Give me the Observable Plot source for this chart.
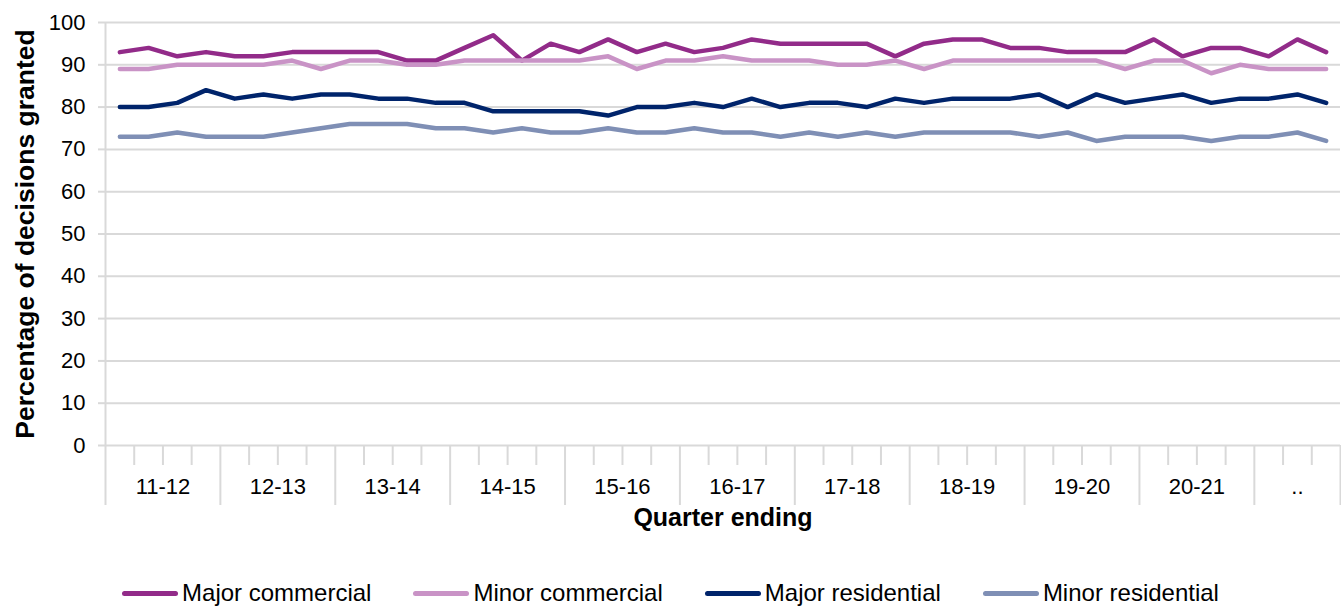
<!DOCTYPE html>
<html>
<head>
<meta charset="utf-8">
<script src="https://cdn.jsdelivr.net/npm/d3@7"></script>
<script src="https://cdn.jsdelivr.net/npm/@observablehq/plot@0.6"></script>
<style>
  html, body { margin: 0; padding: 0; background: #fff; }
  body { width: 1341px; font-family: "Liberation Sans", Arial, sans-serif; }
  #legend { display: flex; justify-content: center; align-items: center; height: 36px; font-size: 24px; color: #000; }
  .item { display: flex; align-items: center; margin: 0 21px; }
  .sw { width: 56px; height: 5px; border-radius: 3px; margin-right: 4px; }
</style>
</head>
<body>
<div id="chart"></div>
<div id="legend"></div>
<script>
const years = ["11-12","12-13","13-14","14-15","15-16","16-17","17-18","18-19","19-20","20-21",".."];
const quartersPerYear = [4,4,4,4,4,4,4,4,4,4,3];

const seriesNames = ["Major commercial","Minor commercial","Major residential","Minor residential"];
const seriesColors = ["#922B89","#C993C6","#00246B","#7F8FB5"];

const majorCommercial = [93,94,92,93,92,92,93,93,93,93,91,91,94,97,91,95,93,96,93,95,93,94,96,95,95,95,95,92,95,96,96,94,94,93,93,93,96,92,94,94,92,96,93];
const minorCommercial = [89,89,90,90,90,90,91,89,91,91,90,90,91,91,91,91,91,92,89,91,91,92,91,91,91,90,90,91,89,91,91,91,91,91,91,89,91,91,88,90,89,89,89];
const majorResidential = [80,80,81,84,82,83,82,83,83,82,82,81,81,79,79,79,79,78,80,80,81,80,82,80,81,81,80,82,81,82,82,82,83,80,83,81,82,83,81,82,82,83,81];
const minorResidential = [73,73,74,73,73,73,74,75,76,76,76,75,75,74,75,74,74,75,74,74,75,74,74,73,74,73,74,73,74,74,74,74,73,74,72,73,73,73,72,73,73,74,72];

const yTicks = [0,10,20,30,40,50,60,70,80,90,100];
const yLabel = "Percentage of decisions granted";
const xLabel = "Quarter ending";

const allSeries = [majorCommercial, minorCommercial, majorResidential, minorResidential];
const rows = [];
allSeries.forEach((vals, s) => vals.forEach((v, i) => rows.push({series: seriesNames[s], pos: i + 0.5, value: v})));

const nQ = d3.sum(quartersPerYear);
const starts = [];
let acc = 0;
const groups = years.map((y, k) => { const g = {label: y, start: acc, center: acc + quartersPerYear[k] / 2}; starts.push(acc); acc += quartersPerYear[k]; return g; });
starts.push(acc);
const startSet = new Set(starts);
const minorTicks = d3.range(1, nQ).filter(t => !startSet.has(t));

const grid = "#d9d9d9";

const chart = Plot.plot({
  width: 1341,
  height: 575,
  marginLeft: 105,
  marginRight: 1,
  marginTop: 22,
  marginBottom: 130,
  style: {fontFamily: "'Liberation Sans', Arial, sans-serif", fontSize: "22px", color: "#000", background: "#fff"},
  x: {domain: [0, nQ], label: null},
  y: {domain: [0, 100], label: null},
  color: {domain: seriesNames, range: seriesColors},
  marks: [
    Plot.gridY(yTicks, {stroke: grid, strokeOpacity: 1, strokeWidth: 2}),
    Plot.ruleX([0], {stroke: grid, strokeWidth: 2}),
    Plot.axisY(yTicks, {tickSize: 7, tickPadding: 13, stroke: grid, strokeWidth: 2, color: "#000", fill: "#000", fontSize: 22, label: null}),
    Plot.axisX(minorTicks, {tickSize: 20, tickFormat: () => "", stroke: grid, strokeWidth: 2, label: null}),
    Plot.axisX(starts, {tickSize: 60, tickFormat: () => "", stroke: grid, strokeWidth: 2, label: null}),
    Plot.text(groups, {x: "center", text: "label", frameAnchor: "bottom", dy: 48, fontSize: 22, fill: "#000"}),
    Plot.text([xLabel], {frameAnchor: "bottom", dy: 80, fontSize: 25, fontWeight: "bold", fill: "#000"}),
    Plot.text([yLabel], {frameAnchor: "left", textAnchor: "middle", rotate: -90, dx: -80, fontSize: 26.5, fontWeight: "bold", fill: "#000"}),
    Plot.line(rows, {x: "pos", y: "value", z: "series", stroke: "series", strokeWidth: 4.5, strokeLinejoin: "round", strokeLinecap: "round"})
  ]
});
document.getElementById("chart").appendChild(chart);

const legend = document.getElementById("legend");
seriesNames.forEach((n, i) => {
  const it = document.createElement("div");
  it.className = "item";
  const sw = document.createElement("div");
  sw.className = "sw";
  sw.style.background = seriesColors[i];
  const t = document.createElement("span");
  t.textContent = n;
  it.appendChild(sw); it.appendChild(t);
  legend.appendChild(it);
});
</script>
</body>
</html>
